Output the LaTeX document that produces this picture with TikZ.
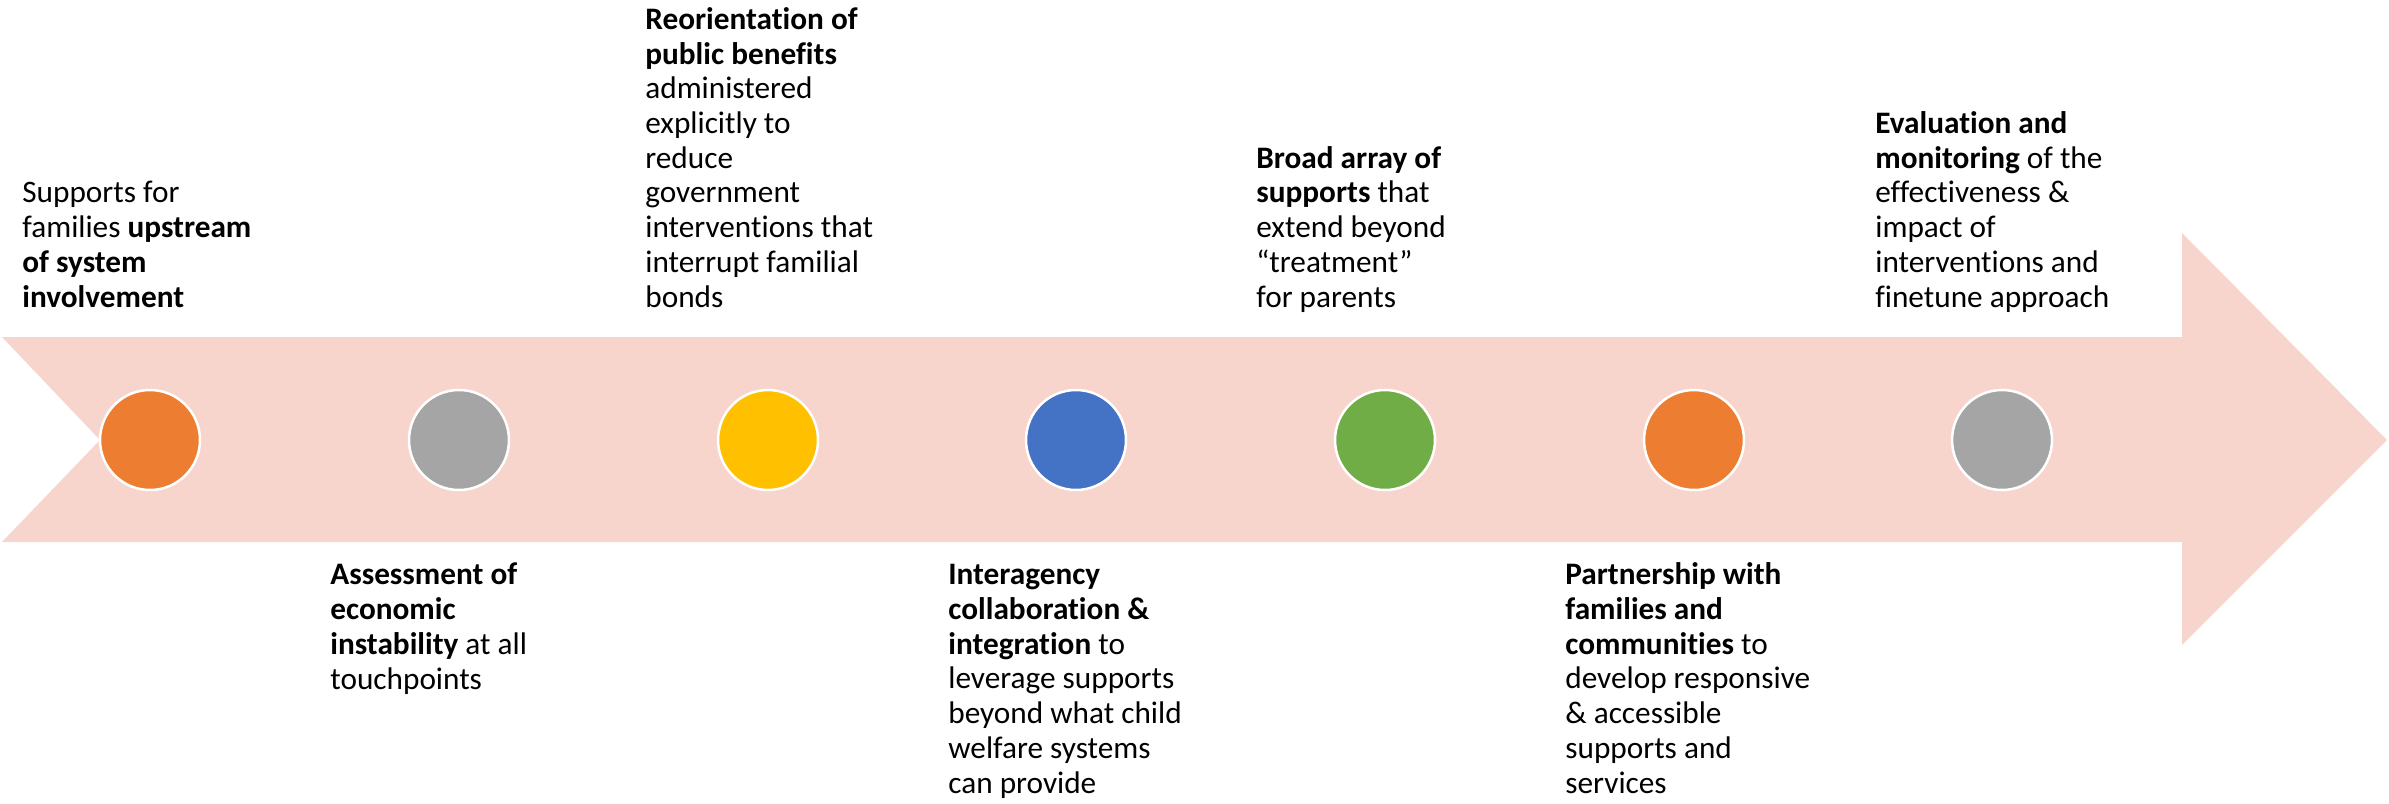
\documentclass[tikz,border=0pt]{standalone}
\usepackage{fontspec}
\setmainfont{Carlito}[Ligatures=NoCommon]
\usetikzlibrary{positioning}
\definecolor{bandpink}{RGB}{247,213,205}
\definecolor{dotorange}{RGB}{237,125,49}
\definecolor{dotgray}{RGB}{165,165,165}
\definecolor{dotyellow}{RGB}{255,192,0}
\definecolor{dotblue}{RGB}{68,114,196}
\definecolor{dotgreen}{RGB}{112,173,71}

\begin{document}
\begin{tikzpicture}[
        x=0.02cm, y=-0.02cm,
        dot/.style={circle, draw=white, line width=0.05cm, minimum size=2cm, inner sep=0pt},
        note/.style={anchor=base west, align=left, inner sep=0pt, font=\fontsize{17.8}{19.75}\selectfont}
    ]
        \useasboundingbox (0,0) rectangle (2389,804);
        % timeline band
        \fill[bandpink] (2,337) -- (2182,337) -- (2182,233) -- (2387,440) -- (2182,645)
            -- (2182,542) -- (2,542) -- (100,440) -- cycle;

        \node[dot, fill=dotorange] (upstream) at (150,440) {};
        \node[dot, fill=dotgray] (assess) at (459,440) {};
        \node[dot, fill=dotyellow] (benefits) at (768,440) {};
        \node[dot, fill=dotblue] (interagency) at (1076,440) {};
        \node[dot, fill=dotgreen] (array) at (1385,440) {};
        \node[dot, fill=dotorange] (partner) at (1694,440) {};
        \node[dot, fill=dotgray] (evaluate) at (2002,440) {};

        % notes above the band (anchored on their last line)
        \node[note] (upstreamtxt) at (22,307) {Supports for\\families \textbf{upstream}\\\textbf{of system}\\\textbf{involvement}};
        \node[note] (benefitstxt) at (645,307) {\textbf{Reorientation of}\\\textbf{public benefits}\\administered\\explicitly to\\reduce\\government\\interventions that\\interrupt familial\\bonds};
        \node[note] (arraytxt) at (1256,307) {\textbf{Broad array of}\\\textbf{supports} that\\extend beyond\\“treatment”\\for parents};
        \node[note] (evaluatetxt) at (1875,307) {\textbf{Evaluation and}\\\textbf{monitoring} of the\\effectiveness \&\\impact of\\interventions and\\finetune approach};

        % notes below the band
        \node[note] (assesstxt) at (330,689) {\textbf{Assessment of}\\\textbf{economic}\\\textbf{instability} at all\\touchpoints};
        \node[note] (interagencytxt) at (948,793) {\textbf{Interagency}\\\textbf{collaboration \&}\\\textbf{integration} to\\leverage supports\\beyond what child\\welfare systems\\can provide};
        \node[note] (partnertxt) at (1565,793) {\textbf{Partnership with}\\\textbf{families and}\\\textbf{communities} to\\develop responsive\\\& accessible\\supports and\\services};
    \end{tikzpicture}
\end{document}
